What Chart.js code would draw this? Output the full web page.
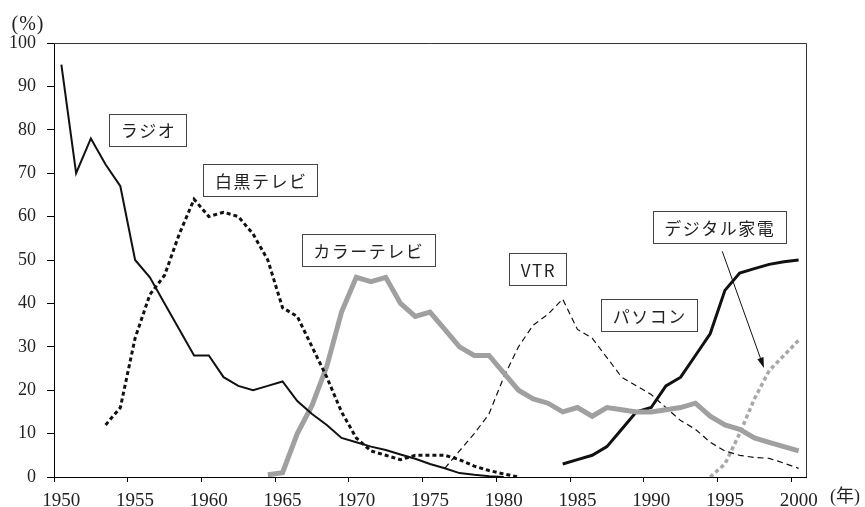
<!DOCTYPE html>
<html>
<head>
<meta charset="utf-8">
<script src="https://cdn.jsdelivr.net/npm/chart.js@4/dist/chart.umd.min.js"></script>
<style>
  html, body { margin: 0; padding: 0; background: #fff; }
  canvas { display: block; }
</style>
</head>
<body>
<canvas id="chart" width="865" height="507"></canvas>
<script>
// Years on the category axis (1950 - 2000)
const years = [];
for (let y = 1950; y <= 2000; y++) years.push(String(y));

// Tick labels shown on the x axis
const yearTicks = ['1950', '1955', '1960', '1965', '1970', '1975', '1980', '1985', '1990', '1995', '2000'];

// Series values (%), null where the item was not yet / no longer counted
const radio = [95, 70, 78, 72, 67, 50, 46, 40, 34, 28, 28, 23, 21, 20, 21, 22, 17.5, 14.5, 12, 9,
    8, 7, 6.2, 5.2, 4.2, 3, 2, 0.9, 0.5, 0.2, 0,
    null, null, null, null, null, null, null, null, null, null,
    null, null, null, null, null, null, null, null, null, null];

const bwTv = [null, null, null, 12, 16, 32, 42, 46.5, 56, 64, 60, 61, 60, 56, 50, 39, 37, 30, 23, 15,
    9, 6, 5, 4, 5, 5, 5, 4, 2.5, 1.5, 0.7, 0,
    null, null, null, null, null, null, null, null, null,
    null, null, null, null, null, null, null, null, null, null];

const colorTv = [null, null, null, null, null, null, null, null, null, null,
    null, null, null, null, 0.5, 1, 10, 16.5, 25.5, 38,
    46, 45, 46, 40, 37, 38, 34, 30, 28, 28,
    24, 20, 18, 17, 15, 16, 14, 16, 15.5, 15,
    15, 15.5, 16, 17, 14, 12, 11, 9, 8, 7, 6];

const vtr = [null, null, null, null, null, null, null, null, null, null,
    null, null, null, null, null, null, null, null, null, null,
    null, null, null, null, null, null, 2, 6, 10, 14.5,
    23, 30, 35, 37.5, 41, 34, 32, 27.5, 23, 21,
    19, 16, 13, 11, 8, 6, 5, 4.5, 4.3, 3.2, 2];

const pc = [null, null, null, null, null, null, null, null, null, null,
    null, null, null, null, null, null, null, null, null, null,
    null, null, null, null, null, null, null, null, null, null,
    null, null, null, null, 3, 4, 5, 7, 11, 15,
    16, 21, 23, 28, 33, 43, 47, 48, 49, 49.6, 50];

const digital = [null, null, null, null, null, null, null, null, null, null,
    null, null, null, null, null, null, null, null, null, null,
    null, null, null, null, null, null, null, null, null, null,
    null, null, null, null, null, null, null, null, null, null,
    null, null, null, null, 0, 3, 10, 18, 24.5, 28, 31.5];

// Boxed series names, placed in data units (year, %)
const notes = [
    { text: 'ラジオ', year: 1955.85, value: 80 },
    { text: '白黒テレビ', year: 1963.5, value: 68.4 },
    { text: 'カラーテレビ', year: 1970.8, value: 52.2 },
    { text: 'VTR', year: 1982.3, value: 47.9 },
    { text: 'パソコン', year: 1989.85, value: 37.3 },
    { text: 'デジタル家電', year: 1994.6, value: 57.5 }
];
// Arrow from the デジタル家電 box to its line
const arrow = { from: { year: 1994.82, value: 52 }, to: { year: 1997.65, value: 25.1 } };

const serif = "'Liberation Serif', 'DejaVu Serif', serif";
const jp = "'Noto Sans CJK JP', sans-serif";

// Frame, labels, arrow and axis captions
const decorations = {
    id: 'decorations',
    afterDatasetsDraw(chart) {
        const { ctx, chartArea, scales } = chart;
        const px = yr => scales.x.getPixelForValue(yr - 1950);
        const py = v => scales.y.getPixelForValue(v);

        ctx.save();
        // top and right edges of the plot frame
        ctx.strokeStyle = '#333';
        ctx.lineWidth = 1;
        ctx.beginPath();
        ctx.moveTo(chartArea.left, chartArea.top + 0.5);
        ctx.lineTo(chartArea.right + 0.5, chartArea.top + 0.5);
        ctx.lineTo(chartArea.right + 0.5, chartArea.bottom);
        ctx.stroke();

        // boxed labels
        ctx.font = '17px ' + jp;
        ctx.letterSpacing = '1.5px';
        ctx.textAlign = 'center';
        ctx.textBaseline = 'middle';
        notes.forEach(n => {
            const x = px(n.year), y = py(n.value);
            const w = ctx.measureText(n.text).width + 22;
            const h = 32;
            ctx.fillStyle = '#fff';
            ctx.fillRect(x - w / 2, y - h / 2, w, h);
            ctx.strokeStyle = '#444';
            ctx.strokeRect(Math.round(x - w / 2) + 0.5, Math.round(y - h / 2) + 0.5, Math.round(w), h);
            ctx.fillStyle = '#222';
            ctx.fillText(n.text, x + 0.75, y + 1);
        });
        ctx.letterSpacing = '0px';

        // arrow
        const x1 = px(arrow.from.year), y1 = py(arrow.from.value);
        const x2 = px(arrow.to.year), y2 = py(arrow.to.value);
        const ang = Math.atan2(y2 - y1, x2 - x1);
        ctx.strokeStyle = '#111';
        ctx.lineWidth = 1;
        ctx.beginPath();
        ctx.moveTo(x1, y1);
        ctx.lineTo(x2 - 6 * Math.cos(ang), y2 - 6 * Math.sin(ang));
        ctx.stroke();
        ctx.fillStyle = '#111';
        ctx.beginPath();
        ctx.moveTo(x2, y2);
        ctx.lineTo(x2 - 11 * Math.cos(ang - 0.3), y2 - 11 * Math.sin(ang - 0.3));
        ctx.lineTo(x2 - 11 * Math.cos(ang + 0.3), y2 - 11 * Math.sin(ang + 0.3));
        ctx.closePath();
        ctx.fill();

        // axis captions
        ctx.fillStyle = '#222';
        ctx.font = '20px ' + serif;
        ctx.letterSpacing = '1px';
        ctx.fillText('(%)', 28, 25);
        ctx.letterSpacing = '0px';
        ctx.font = "18px 'Liberation Serif', 'Noto Sans CJK JP', serif";
        ctx.fillText('(年)', 845, 497);
        ctx.restore();
    }
};

new Chart('chart', {
    type: 'line',
    data: {
        labels: years,
        datasets: [
            { label: 'ラジオ', data: radio, borderColor: '#111', borderWidth: 2 },
            { label: '白黒テレビ', data: bwTv, borderColor: '#111', borderWidth: 3, borderDash: [4, 3] },
            { label: 'カラーテレビ', data: colorTv, borderColor: '#a0a0a0', borderWidth: 5 },
            { label: 'VTR', data: vtr, borderColor: '#111', borderWidth: 1.2, borderDash: [6, 4] },
            { label: 'パソコン', data: pc, borderColor: '#111', borderWidth: 3 },
            { label: 'デジタル家電', data: digital, borderColor: '#a8a8a8', borderWidth: 3.5, borderDash: [4, 3] }
        ]
    },
    options: {
        responsive: false,
        animation: false,
        devicePixelRatio: 1,
        layout: { padding: { top: 43, right: 59, left: 0, bottom: 0 } },
        elements: {
            point: { radius: 0 },
            line: { tension: 0, fill: false, borderCapStyle: 'butt', borderJoinStyle: 'miter' }
        },
        plugins: {
            legend: { display: false },
            tooltip: { enabled: false }
        },
        scales: {
            x: {
                type: 'category',
                offset: true,
                afterFit: scale => { scale.height = 30; },
                border: { display: true, color: '#000', width: 1 },
                grid: {
                    offset: true,
                    drawOnChartArea: false,
                    drawTicks: true,
                    tickLength: 5,
                    color: c => (c.index % 5 === 0 && c.index < years.length) ? '#000' : 'rgba(0,0,0,0)'
                },
                ticks: {
                    autoSkip: false,
                    maxRotation: 0,
                    padding: 8,
                    color: '#222',
                    font: { family: serif, size: 19 },
                    callback: (v, i) => yearTicks.includes(years[i]) ? years[i] : ''
                }
            },
            y: {
                min: 0,
                max: 100,
                afterFit: scale => { scale.width = 54; },
                border: { display: true, color: '#000', width: 1 },
                grid: { drawOnChartArea: false, drawTicks: true, tickLength: 7, color: '#000' },
                ticks: {
                    stepSize: 10,
                    padding: 11,
                    color: '#222',
                    font: { family: serif, size: 18 }
                }
            }
        }
    },
    plugins: [decorations]
});
</script>
</body>
</html>
